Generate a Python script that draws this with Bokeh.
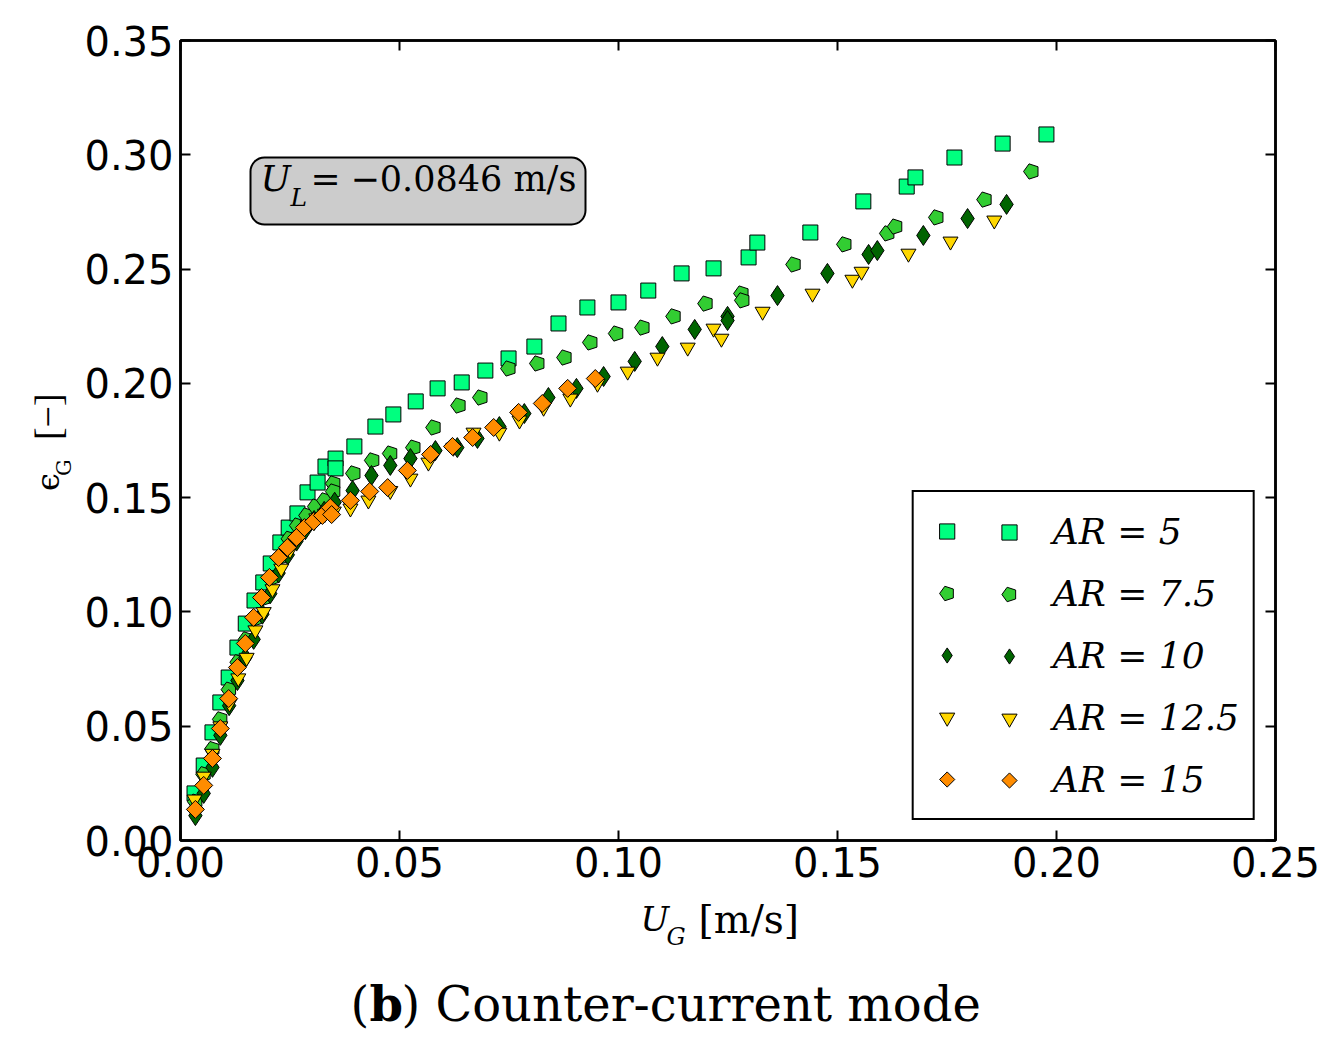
import numpy as np
from bokeh.plotting import figure
from bokeh.layouts import row, column
from bokeh.models import (Range1d, FixedTicker, PrintfTickFormatter, LinearAxis,
                          Legend, LegendItem, Label, BoxAnnotation, ColumnDataSource)
from bokeh.core.properties import value
from bokeh.embed import file_html
from bokeh.resources import INLINE

# ---------------- data ----------------
x_ticks = [0.00, 0.05, 0.10, 0.15, 0.20, 0.25]
y_ticks = [0.00, 0.05, 0.10, 0.15, 0.20, 0.25, 0.30, 0.35]

labels = ["AR = 5", "AR = 7.5", "AR = 10", "AR = 12.5", "AR = 15"]

x5 = [0.0032, 0.0053, 0.0073, 0.0091, 0.0110, 0.0130, 0.0149, 0.0169, 0.0189, 0.0206,
      0.0228, 0.0247, 0.0267, 0.0290, 0.0313, 0.0331, 0.0354, 0.0354, 0.0397, 0.0445,
      0.0486, 0.0537, 0.0587, 0.0642, 0.0696, 0.0749, 0.0808, 0.0863, 0.0929, 0.1000,
      0.1068, 0.1144, 0.1217, 0.1297, 0.1317, 0.1438, 0.1559, 0.1658, 0.1678, 0.1767,
      0.1877, 0.1977]
y5 = [0.0206, 0.0328, 0.0473, 0.0604, 0.0713, 0.0844, 0.0949, 0.1050, 0.1129, 0.1212,
      0.1304, 0.1369, 0.1431, 0.1523, 0.1566, 0.1636, 0.1671, 0.1628, 0.1724, 0.1811,
      0.1864, 0.1921, 0.1978, 0.2004, 0.2056, 0.2109, 0.2161, 0.2262, 0.2332, 0.2354,
      0.2406, 0.2481, 0.2503, 0.2551, 0.2616, 0.2660, 0.2796, 0.2861, 0.2901, 0.2988,
      0.3049, 0.3089]

x75 = [0.0034, 0.0053, 0.0073, 0.0091, 0.0111, 0.0131, 0.0150, 0.0170, 0.0190, 0.0210,
       0.0229, 0.0248, 0.0267, 0.0288, 0.0308, 0.0329, 0.0349, 0.0349, 0.0395, 0.0438,
       0.0479, 0.0532, 0.0578, 0.0635, 0.0685, 0.0749, 0.0815, 0.0877, 0.0936, 0.0995,
       0.1055, 0.1126, 0.1199, 0.1281, 0.1283, 0.1400, 0.1516, 0.1614, 0.1632, 0.1726,
       0.1836, 0.1943]
y75 = [0.0170, 0.0290, 0.0400, 0.0530, 0.0660, 0.0780, 0.0880, 0.0970, 0.1060, 0.1150,
       0.1240, 0.1320, 0.1378, 0.1422, 0.1461, 0.1488, 0.1562, 0.1527, 0.1606, 0.1663,
       0.1693, 0.1719, 0.1807, 0.1903, 0.1938, 0.2065, 0.2087, 0.2113, 0.2179, 0.2218,
       0.2244, 0.2293, 0.2349, 0.2393, 0.2363, 0.2520, 0.2608, 0.2656, 0.2686, 0.2726,
       0.2804, 0.2927]

x10 = [0.0034, 0.0053, 0.0073, 0.0091, 0.0111, 0.0130, 0.0148, 0.0167, 0.0187, 0.0205,
       0.0224, 0.0245, 0.0265, 0.0285, 0.0305, 0.0328, 0.0352, 0.0393, 0.0436, 0.0479,
       0.0525, 0.0582, 0.0632, 0.0678, 0.0728, 0.0785, 0.0840, 0.0904, 0.0966, 0.1037,
       0.1100, 0.1174, 0.1249, 0.1249, 0.1363, 0.1477, 0.1571, 0.1591, 0.1696, 0.1797,
       0.1886]
y10 = [0.0109, 0.0206, 0.0320, 0.0460, 0.0590, 0.0700, 0.0800, 0.0880, 0.0990, 0.1080,
       0.1170, 0.1250, 0.1310, 0.1360, 0.1400, 0.1440, 0.1480, 0.1531, 0.1597, 0.1641,
       0.1671, 0.1706, 0.1719, 0.1759, 0.1811, 0.1868, 0.1938, 0.1978, 0.2030, 0.2096,
       0.2161, 0.2236, 0.2293, 0.2275, 0.2384, 0.2481, 0.2564, 0.2581, 0.2647, 0.2721,
       0.2783]

x125 = [0.0032, 0.0053, 0.0073, 0.0091, 0.0112, 0.0132, 0.0151, 0.0171, 0.0190, 0.0210,
        0.0230, 0.0250, 0.0270, 0.0290, 0.0310, 0.0330, 0.0350, 0.0388, 0.0429, 0.0479,
        0.0525, 0.0566, 0.0623, 0.0669, 0.0728, 0.0774, 0.0829, 0.0890, 0.0952, 0.1021,
        0.1089, 0.1158, 0.1217, 0.1235, 0.1329, 0.1443, 0.1534, 0.1555, 0.1662, 0.1758,
        0.1858]
y125 = [0.0180, 0.0280, 0.0380, 0.0500, 0.0600, 0.0710, 0.0800, 0.0920, 0.1000, 0.1100,
        0.1190, 0.1270, 0.1330, 0.1380, 0.1410, 0.1430, 0.1440, 0.1453, 0.1488, 0.1530,
        0.1584, 0.1654, 0.1719, 0.1785, 0.1785, 0.1838, 0.1894, 0.1934, 0.1999, 0.2052,
        0.2113, 0.2157, 0.2240, 0.2196, 0.2314, 0.2393, 0.2454, 0.2489, 0.2568, 0.2621,
        0.2713]

x15 = [0.0034, 0.0053, 0.0073, 0.0091, 0.0110, 0.0130, 0.0148, 0.0167, 0.0185, 0.0203,
       0.0224, 0.0244, 0.0265, 0.0283, 0.0304, 0.0324, 0.0342, 0.0345, 0.0388, 0.0432,
       0.0473, 0.0518, 0.0571, 0.0621, 0.0667, 0.0715, 0.0772, 0.0826, 0.0884, 0.0947]
y15 = [0.0136, 0.0241, 0.0359, 0.0490, 0.0621, 0.0757, 0.0862, 0.0976, 0.1063, 0.1151,
       0.1238, 0.1282, 0.1326, 0.1369, 0.1396, 0.1422, 0.1457, 0.1426, 0.1488, 0.1527,
       0.1544, 0.1619, 0.1689, 0.1724, 0.1763, 0.1807, 0.1873, 0.1912, 0.1978, 0.2021]

colors = ["#00FF7F", "#32CD32", "#006400", "#FFD700", "#FF8C00"]

# baseline correction (fraction of the font size) observed for alphabetic text
K = 0.33

# ---------------- main figure ----------------
W_LEFT = 75
W_TOTAL = 1336
H_MAIN = 893
H_BOTTOM = 154

p = figure(width=W_TOTAL - W_LEFT, height=H_MAIN, output_backend="svg", toolbar_location=None,
           x_range=Range1d(0, 0.25), y_range=Range1d(0, 0.35),
           min_border_left=105, min_border_right=61, min_border_top=40, min_border_bottom=53)
p.grid.visible = False
p.background_fill_color = "white"
p.outline_line_color = "black"
p.outline_line_width = 2.5

for ax, ticks in ((p.xaxis[0], x_ticks), (p.yaxis[0], y_ticks)):
    ax.ticker = FixedTicker(ticks=ticks)
    ax.formatter = PrintfTickFormatter(format="%.2f")
    ax.major_tick_in = 10
    ax.major_tick_out = 0
    ax.minor_tick_in = 0
    ax.minor_tick_out = 0
    ax.major_tick_line_width = 2
    ax.axis_line_width = 2.5
    ax.major_label_text_font = "DejaVu Sans"
    ax.major_label_text_font_size = "40px"
    ax.major_label_text_color = "black"
p.xaxis[0].major_label_standoff = 6
p.yaxis[0].major_label_standoff = 7

for loc, ticks in (("above", x_ticks), ("right", y_ticks)):
    ax = LinearAxis(ticker=FixedTicker(ticks=ticks))
    ax.major_tick_in = 10
    ax.major_tick_out = 0
    ax.minor_tick_in = 0
    ax.minor_tick_out = 0
    ax.major_tick_line_width = 2
    ax.axis_line_width = 2.5
    ax.major_label_text_font_size = "0px"
    ax.major_label_text_color = None
    ax.major_label_standoff = 0
    p.add_layout(ax, loc)

# ---------------- data glyphs ----------------
s5 = ColumnDataSource(dict(x=x5, y=y5))
s75 = ColumnDataSource(dict(x=x75, y=y75))
s10 = ColumnDataSource(dict(x=x10, y=y10))
s125 = ColumnDataSource(dict(x=x125, y=y125))
s15 = ColumnDataSource(dict(x=x15, y=y15))

r5 = p.scatter("x", "y", source=s5, marker="square", size=15,
               fill_color=colors[0], line_color="black", line_width=1)
r75 = p.ngon("x", "y", source=s75, radius=8, radius_units="screen", n=5,
             angle=np.pi / 2, fill_color=colors[1], line_color="black", line_width=1)
r10 = p.scatter("x", "y", source=s10, marker="diamond", size=20,
                fill_color=colors[2], line_color="black", line_width=1)
r125 = p.scatter("x", "y", source=s125, marker="inverted_triangle", size=15,
                 fill_color=colors[3], line_color="black", line_width=1)
r15 = p.ngon("x", "y", source=s15, radius=9, radius_units="screen", n=4,
             angle=0, fill_color=colors[4], line_color="black", line_width=1)
renderers = [r5, r75, r10, r125, r15]

leg_common = dict(label_text_font="DejaVu Serif", label_text_font_style="italic",
                  label_text_font_size="36px", label_text_color="black",
                  glyph_width=38, glyph_height=38, label_height=50,
                  spacing=12, padding=14)

# main legend: frame, first sample marker and the labels
legend = Legend(items=[LegendItem(label=labels[i], renderers=[r])
                       for i, r in enumerate(renderers)],
                location="bottom_right", margin=20,
                border_line_color="black", border_line_width=2, border_line_alpha=1,
                background_fill_color="white", background_fill_alpha=1,
                label_standoff=87, **leg_common)
p.add_layout(legend, "center")

# second sample marker of each entry (matplotlib numpoints=2 look)
legend2 = Legend(items=[LegendItem(label=" ", renderers=[r]) for r in renderers],
                 location=(810, 35),
                 border_line_color=None, background_fill_alpha=0,
                 label_standoff=0, **leg_common)
p.add_layout(legend2, "center")

# ---------------- annotation box (inside the frame) ----------------
box = BoxAnnotation(left=70, right=405, bottom=616, top=683,
                    left_units="screen", right_units="screen",
                    bottom_units="screen", top_units="screen",
                    fill_color="#cccccc", fill_alpha=1, line_color="black",
                    line_alpha=1, line_width=2, border_radius=14)
p.add_layout(box)

def lab(text, x, y, size, style="normal"):
    px = float(size.replace("px", ""))
    p.add_layout(Label(x=x, y=y + K * px, x_units="screen", y_units="screen", text=text,
                       text_font="DejaVu Serif", text_font_size=size, text_font_style=style,
                       text_color="black", text_align="left",
                       text_baseline="alphabetic"))

lab("U", 80, 650, "36px", "italic")
lab("L", 110, 635, "25px", "italic")
lab("=", 130, 650, "36px")
lab("\u22120.0846 m/s", 170, 650, "35px")

# ---------------- side figures for the axis titles and caption ----------------
def text_fig(w, h):
    f = figure(width=w, height=h, output_backend="svg", toolbar_location=None,
               x_range=Range1d(0, w), y_range=Range1d(0, h),
               x_axis_type=None, y_axis_type=None, min_border=0,
               outline_line_color=None)
    f.grid.visible = False
    return f

def txt(f, text, x, y, size, style="normal", angle=0.0, font="DejaVu Serif"):
    px = float(size.replace("px", ""))
    if angle:
        x = x - K * px
    else:
        y = y + K * px
    f.text(x=[x], y=[y], text=[text], angle=angle,
           text_font=value(font), text_font_size=value(size),
           text_font_style=value(style), text_color="black",
           text_align="left", text_baseline="alphabetic")

left = text_fig(W_LEFT, H_MAIN)
txt(left, "\u03f5", 58, H_MAIN - 503, "32px", "normal", np.pi / 2)
txt(left, "G", 70, H_MAIN - 486, "21px", "normal", np.pi / 2)
txt(left, "[\u2212]", 60, H_MAIN - 446, "38px", "normal", np.pi / 2, "Liberation Serif")

bottom = text_fig(W_TOTAL, H_BOTTOM)
HB = H_MAIN + H_BOTTOM
txt(bottom, "U", 640, HB - 930, "34px", "italic")
txt(bottom, "G", 666, HB - 944, "24px", "italic")
txt(bottom, "[m/s]", 698, HB - 932, "39px")

txt(bottom, "(", 350, HB - 1019, "48px")
txt(bottom, "b", 369, HB - 1019, "48px", "bold")
txt(bottom, ") Counter-current mode", 401, HB - 1019, "48px")

layout = column(row(left, p, spacing=0), bottom, spacing=0)

open("out.html", "w").write(file_html(layout, INLINE))
